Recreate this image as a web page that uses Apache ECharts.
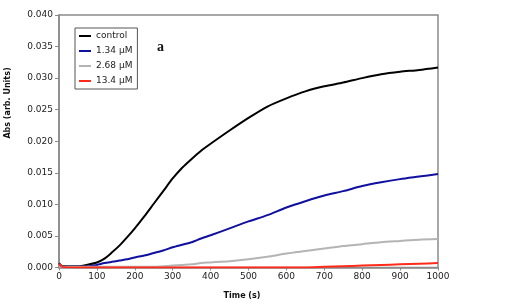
<!DOCTYPE html>
<html>
<head>
<meta charset="utf-8">
<script src="https://cdn.jsdelivr.net/npm/echarts@6/dist/echarts.min.js"></script>
<style>html,body{margin:0;padding:0;background:#fff}#c{width:505px;height:308px}</style>
</head>
<body>
<div id="c"></div>
<script>
const times = [0, 10, 50, 80, 100, 120, 140, 160, 180, 200, 225, 250, 275, 300, 325, 350, 375, 400, 450, 500, 550, 600, 650, 700, 750, 800, 850, 900, 950, 1000];
const control = [0.0007, 0.0002, 0.0002, 0.0005, 0.0008, 0.0014, 0.0024, 0.0035, 0.0048, 0.0062, 0.0081, 0.0101, 0.0121, 0.0141, 0.0158, 0.0172, 0.0185, 0.0196, 0.0217, 0.0237, 0.0255, 0.0268, 0.0279, 0.0287, 0.0293, 0.0300, 0.0306, 0.0310, 0.0313, 0.0317];
const c134 = [0.0002, 0.0001, 0.0001, 0.0002, 0.0004, 0.0007, 0.0009, 0.0011, 0.0013, 0.0016, 0.0019, 0.0023, 0.0027, 0.0032, 0.0036, 0.0040, 0.0046, 0.0051, 0.0062, 0.0073, 0.0083, 0.0095, 0.0105, 0.0114, 0.0121, 0.0129, 0.0135, 0.0140, 0.0144, 0.0148];
const c268 = [0.0001, 0.0001, 0.0001, 0.0001, 0.0001, 0.0001, 0.0001, 0.0001, 0.0001, 0.0001, 0.0001, 0.0001, 0.0002, 0.0003, 0.0004, 0.0005, 0.0007, 0.0008, 0.0010, 0.0013, 0.0017, 0.0022, 0.0026, 0.0030, 0.0034, 0.0037, 0.0040, 0.0042, 0.0044, 0.0045];
const c134b = [0.0006, 0.0001, 0.0000, 0.0000, 0.0000, 0.0000, 0.0000, 0.0000, 0.0000, 0.0000, 0.0000, 0.0000, 0.0000, 0.0000, 0.0000, 0.0000, 0.0000, 0.0000, 0.0000, 0.0000, 0.0000, 0.0000, 0.0000, 0.0001, 0.0002, 0.0003, 0.0004, 0.0005, 0.0006, 0.0007];
const seriesNames = ['control', '1.34 μM', '2.68 μM', '13.4 μM'];
const seriesColors = ['#000000', '#1010a0', '#b4b4b4', '#ff2a1a'];
const seriesValues = [control, c134, c268, c134b];
const xTicks = [0, 100, 200, 300, 400, 500, 600, 700, 800, 900, 1000];
const yTicks = [0, 0.005, 0.010, 0.015, 0.020, 0.025, 0.030, 0.035, 0.040];

const chart = echarts.init(document.getElementById('c'), null, {renderer: 'canvas'});
const font = 'DejaVu Sans';
chart.setOption({
  animation: false,
  backgroundColor: '#fff',
  grid: {left: 59, right: 67, top: 15, bottom: 40.5, show: true, borderColor: '#8a8a8a', borderWidth: 1.5},
  xAxis: {
    type: 'value', min: xTicks[0], max: xTicks[xTicks.length - 1], interval: 100,
    axisLine: {show: true, lineStyle: {color: '#8a8a8a', width: 1.5}},
    axisTick: {show: true, length: 3, lineStyle: {color: '#8a8a8a'}},
    axisLabel: {color: '#222', fontFamily: font, fontSize: 9, margin: 5, formatter: v => String(v)},
    splitLine: {show: false}
  },
  yAxis: {
    type: 'value', min: yTicks[0], max: yTicks[yTicks.length - 1], interval: 0.005,
    axisLine: {show: true, lineStyle: {color: '#8a8a8a', width: 1.5}},
    axisTick: {show: true, length: 4, lineStyle: {color: '#8a8a8a'}},
    axisLabel: {color: '#222', fontFamily: font, fontSize: 9, margin: 6,
      formatter: v => v.toFixed(3)},
    splitLine: {show: false}
  },
  legend: {
    orient: 'vertical', left: 75, top: 28,
    padding: [3, 5, 3, 4],
    borderColor: '#555', borderWidth: 1,
    itemWidth: 12, itemHeight: 2, itemGap: 5,
    icon: 'rect',
    textStyle: {fontFamily: font, fontSize: 9, color: '#222', lineHeight: 10},
    data: seriesNames
  },
  graphic: [
    {type: 'text', left: 157, top: 40, style: {text: 'a', font: 'bold 14px "Liberation Serif"', fill: '#111'}},
    {type: 'text', x: 8, y: 103, rotation: Math.PI / 2,
      style: {text: 'Abs (arb. Units)', font: 'bold 8px "DejaVu Sans"', fill: '#111', align: 'center', verticalAlign: 'middle'}},
    {type: 'text', x: 242, y: 296,
      style: {text: 'Time (s)', font: 'bold 8px "DejaVu Sans"', fill: '#111', align: 'center', verticalAlign: 'middle'}}
  ],
  series: seriesValues.map((vals, i) => ({
    name: seriesNames[i],
    type: 'line',
    showSymbol: false,
    symbol: 'none',
    smooth: 0.25,
    color: seriesColors[i],
    lineStyle: {width: 2, color: seriesColors[i]},
    z: 2 + i,
    data: times.map((t, j) => [t, vals[j]])
  }))
});
</script>
</body>
</html>
